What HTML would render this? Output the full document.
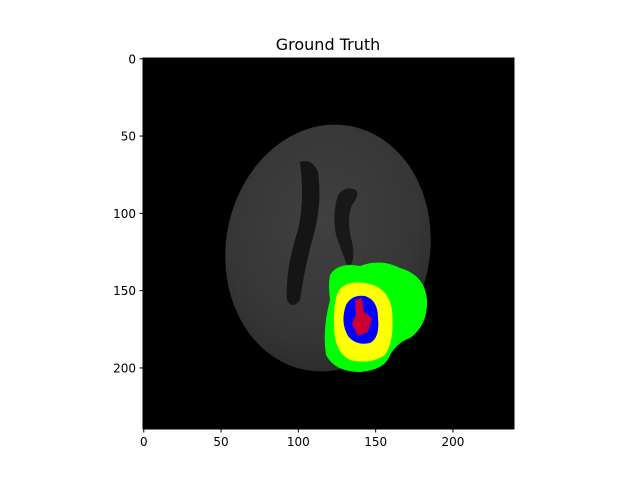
<!DOCTYPE html>
<html><head><meta charset="utf-8"><style>
html,body{margin:0;padding:0;background:#fff;}
svg{display:block;font-family:"DejaVu Sans","Liberation Sans",sans-serif;}
</style></head><body>
<svg id="chart" width="640" height="480" viewBox="0 0 640 480">
  <defs>
    <radialGradient id="brainGrad" cx="0.45" cy="0.4" r="0.65">
      <stop offset="0" stop-color="#404040"/>
      <stop offset="0.7" stop-color="#363636"/>
      <stop offset="1" stop-color="#2a2a2a"/>
    </radialGradient>
    <clipPath id="axclip"><rect x="143" y="58" width="371" height="371"/></clipPath>
  </defs>
  <text x="328" y="50" font-size="16" text-anchor="middle" fill="#000">Ground Truth</text>
  <g clip-path="url(#axclip)">
    <rect x="143" y="58" width="371" height="371" fill="#000"/>
    <ellipse cx="328" cy="248" rx="102" ry="124" transform="rotate(10 328 248)" fill="url(#brainGrad)"/>
    <path d="M300,162 Q312,158 318,172 Q322,200 315,230 Q305,265 300,300 Q292,310 287,300 Q285,270 298,230 Q305,200 300,162 Z" fill="#151515"/>
    <path d="M356,190 Q345,185 338,195 Q332,215 336,235 Q342,252 348,268 Q356,262 352,242 Q346,220 352,205 Q360,195 356,190 Z" fill="#181818"/>
    <path d="M330,275 Q338,262 360,266 Q380,258 400,268 Q425,275 427,300 Q428,325 410,338 Q398,342 390,355 Q385,370 360,372 Q335,372 326,355 Q322,330 330,300 Q328,285 330,275 Z" fill="#00ff00"/>
    <path d="M338,292 Q345,280 365,283 Q388,286 392,310 Q395,340 385,355 Q370,365 350,360 Q334,352 334,325 Q333,305 338,292 Z" fill="#ffff00"/>
    <path d="M346,305 Q352,294 365,296 Q378,300 378,318 Q380,338 370,343 Q356,346 348,336 Q340,322 346,305 Z" fill="#0000ff"/>
    <path d="M355,300 L362,298 L364,312 L372,318 L368,332 L358,336 L352,324 L356,314 Z" fill="#ff0000" opacity="0.8"/>
  </g>
  <rect x="143" y="58" width="371" height="371" fill="none" stroke="#000" stroke-width="1"/>
  <g id="xticks"></g>
  <g id="yticks"></g>
</svg>
<script>
const xTickValues = [0, 50, 100, 150, 200];
const yTickValues = [0, 50, 100, 150, 200];
const imgSize = 240;
const ax = {x0:143, y0:58, w:371, h:371};
function xScale(v){ return ax.x0 + (v + 0.5) / imgSize * ax.w; }
function yScale(v){ return ax.y0 + (v + 0.5) / imgSize * ax.h; }
const NS = "http://www.w3.org/2000/svg";
const gx = document.getElementById('xticks');
const gy = document.getElementById('yticks');
xTickValues.forEach(v => {
  const x = xScale(v);
  const t = document.createElementNS(NS,'line');
  t.setAttribute('x1',x); t.setAttribute('x2',x);
  t.setAttribute('y1',429); t.setAttribute('y2',432.5);
  t.setAttribute('stroke','#000');
  
  
  gx.appendChild(t);
  const l = document.createElementNS(NS,'text');
  l.setAttribute('x',x); l.setAttribute('y',446);
  l.setAttribute('font-size','12'); l.setAttribute('text-anchor','middle');
  l.textContent = v;
  
  
  gx.appendChild(l);
});
yTickValues.forEach(v => {
  const y = yScale(v);
  const t = document.createElementNS(NS,'line');
  t.setAttribute('x1',139.5); t.setAttribute('x2',143);
  t.setAttribute('y1',y); t.setAttribute('y2',y);
  t.setAttribute('stroke','#000');
  
  
  gy.appendChild(t);
  const l = document.createElementNS(NS,'text');
  l.setAttribute('x',136); l.setAttribute('y',y+4.5);
  l.setAttribute('font-size','12'); l.setAttribute('text-anchor','end');
  l.textContent = v;
  
  
  gy.appendChild(l);
});
</script>
</body></html>
